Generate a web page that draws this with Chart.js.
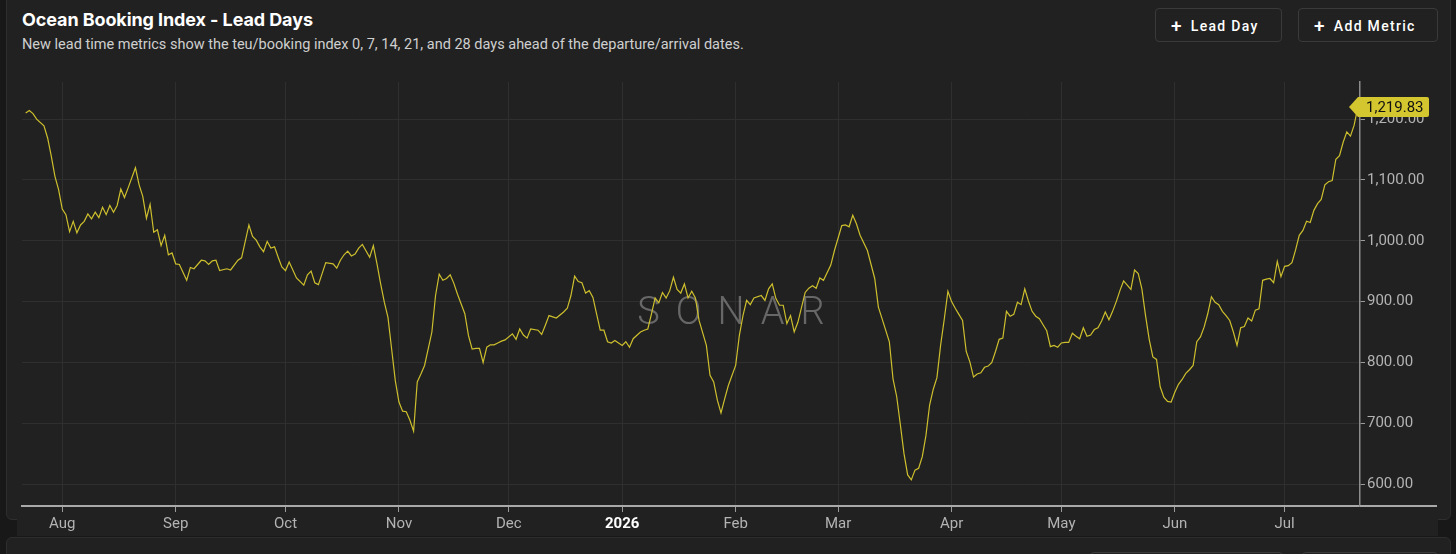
<!DOCTYPE html>
<html>
<head>
<meta charset="utf-8">
<title>Ocean Booking Index - Lead Days</title>
<script src="https://cdn.jsdelivr.net/npm/chart.js@4.4.1/dist/chart.umd.min.js"></script>
<style>
  html, body { margin: 0; padding: 0; background: #181818; width: 1456px; height: 554px; overflow: hidden; }
  body { position: relative; font-family: Roboto, "Noto Sans", sans-serif; }
  .card { position: absolute; background: #212121; border: 1px solid #2e2e2e; border-radius: 6px; box-sizing: border-box; }
  #mainCard { left: 6px; top: -10px; width: 1445px; height: 530px; }
  #axisStrip { position: absolute; left: 17px; top: 505px; width: 1421px; height: 31px; background: #212121; }
  #lowerCard { left: 6px; top: 537px; width: 1445px; height: 40px; }
  h1 { position: absolute; left: 22px; top: 9px; margin: 0; font: 700 18px Inter, Roboto, sans-serif; color: #fff; letter-spacing: -0.1px; }
  .sub { position: absolute; left: 22px; top: 36px; margin: 0; font: 400 14.5px Roboto, sans-serif; color: #cfcfcf; }
  .btn { position: absolute; top: 8px; height: 34px; box-sizing: border-box; border: 1px solid #3a3a3a; border-radius: 4px;
         color: #fff; font: 500 14px Roboto, sans-serif; letter-spacing: 1.3px; line-height: 32px; padding-left: 15px; }
  .btn b { font-size: 19px; font-weight: 500; margin-right: 8px; position: relative; top: 1px; }
  .ghost { position: absolute; top: 552px; height: 20px; border: 1px solid #3a3a3a; border-radius: 4px; box-sizing: border-box; }
  canvas { position: absolute; left: 0; top: 0; }
</style>
</head>
<body>
<div class="card" id="mainCard"></div>
<div id="axisStrip"></div>
<div class="card" id="lowerCard"></div>
<div class="ghost" style="left:1090px;width:193px"></div>
<div class="ghost" style="left:1302px;width:136px"></div>
<h1>Ocean Booking Index - Lead Days</h1>
<p class="sub">New lead time metrics show the teu/booking index 0, 7, 14, 21, and 28 days ahead of the departure/arrival dates.</p>
<div class="btn" style="left:1155px;width:127px"><b>+</b>Lead Day</div>
<div class="btn" style="left:1298px;width:140px"><b>+</b>Add Metric</div>
<canvas id="leadChart" width="1456" height="554"></canvas>

<script>
// Días contados desde el 1 de agosto de 2025 (día 0), valor del índice
const dayOffsets = [
  -10, -9, -8, -7, -5, -4, -3, -2, -1,
  0, 1, 2, 3, 4, 5, 6, 7, 8, 9, 10, 11, 12, 13, 14, 15, 16, 17, 18,
  20, 21, 22, 23, 24, 25, 26, 27, 28, 29, 30, 31, 32,
  34, 35, 36, 38, 39, 40, 41, 42, 43, 45, 46, 48, 49, 51, 52, 53, 54, 55,
  56, 57, 58, 59, 60, 61, 62, 64, 66, 67, 68, 69, 70, 72,
  74, 75, 76, 77, 78, 79, 80, 81, 82,
  84, 85, 86, 87, 88, 89, 90, 91, 92, 93, 94, 95, 96, 97, 98, 99,
  101, 102, 103, 104, 105, 106, 107, 108, 109, 110, 111, 112, 113, 114, 115, 116, 117, 118, 119, 120, 121,
  123, 124, 125, 126, 127, 128, 130, 131, 132, 133, 135,
  137, 138, 139, 140, 141, 142, 143, 144, 145, 146, 147, 148, 149, 150, 151,
  153, 154, 155, 156,
  158, 159, 160, 161, 162, 163, 164, 165, 166, 167, 168, 169, 170, 171, 172, 173, 174,
  176, 177, 178, 179, 180, 181, 182, 184, 185, 186, 187, 188, 189,
  191, 192, 193, 194, 195, 196, 197, 198, 199, 200, 201,
  203, 204, 205, 206, 207, 208, 210, 211, 213, 214, 215, 216, 217, 218, 220, 222, 223, 224, 226, 227,
  228, 229, 230, 231, 232, 233, 234, 235, 236, 237, 238, 239, 240, 241, 242, 243, 244, 245, 246, 247,
  248, 249, 250, 251, 252, 253, 254, 255, 256, 257, 258, 259, 260, 261, 262, 263, 264, 265, 266, 267,
  268, 269, 270, 271, 272, 273, 274, 275, 276, 277, 278, 279, 280, 281, 282, 283, 284, 285, 286, 287,
  288, 289, 290, 291, 292, 293, 294, 295, 296, 297, 298, 299, 300, 301, 302, 303, 304, 305, 306, 307,
  308, 309, 310, 311, 312, 313, 314, 315, 316, 317, 318, 319, 320, 321, 322, 323, 324, 325, 326, 327,
  328, 329, 330, 331, 332, 333, 334, 335, 336, 337, 338, 339, 340, 341, 342, 343, 344, 345, 346, 347,
  348, 349, 350, 351, 352, 353, 354
];

const bookingIndex = [
  1210, 1214, 1209, 1200, 1189, 1169, 1139, 1106, 1084,
  1052, 1043, 1015, 1032, 1013, 1026, 1032, 1044, 1036, 1047, 1038, 1055, 1043, 1058, 1047, 1058, 1085, 1071, 1087,
  1120, 1092, 1073, 1037, 1060, 1014, 1018, 992, 1009, 977, 980, 962, 961,
  935, 956, 954, 968, 967, 961, 967, 968, 951, 954, 952, 968, 972, 1026, 1007, 1001, 990, 982,
  999, 988, 990, 973, 957, 951, 965, 939, 927, 944, 950, 931, 928, 964,
  962, 955, 968, 977, 983, 975, 978, 988, 994,
  973, 992, 962, 929, 899, 874, 822, 770, 735, 720, 719, 705, 687, 768, 781, 795,
  850, 910, 945, 935, 938, 944, 930, 912, 896, 880, 844, 822, 823, 823, 800, 825, 829, 829, 832, 835, 837,
  847, 838, 855, 845, 840, 855, 853, 846, 861, 877, 873,
  883, 889, 910, 942, 933, 931, 914, 918, 907, 880, 853, 853, 834, 832, 836,
  828, 834, 825, 839,
  850, 853, 855, 880, 906, 898, 915, 906, 918, 940, 920, 914, 929, 906, 917, 906, 869,
  828, 779, 768, 738, 717, 740, 762, 795, 844, 877, 902, 895, 906,
  910, 902, 921, 929, 905, 894, 894, 864, 877, 850, 866,
  915, 922, 926, 922, 939, 935, 960, 984, 1025, 1026, 1023, 1042, 1028, 1009, 984, 938, 891, 872, 834, 773,
  744, 698, 650, 615, 607, 623, 626, 645, 680, 730, 756, 775, 828, 871, 917, 900, 889, 879, 869, 818,
  801, 776, 781, 783, 792, 794, 800, 818, 838, 840, 884, 876, 879, 899, 895, 921, 901, 884, 876, 872,
  862, 852, 826, 828, 825, 832, 833, 833, 848, 843, 839, 857, 843, 845, 854, 857, 868, 883, 870, 884,
  900, 918, 934, 927, 920, 952, 946, 921, 877, 838, 809, 805, 760, 743, 736, 735, 751, 764, 772, 782,
  788, 795, 834, 842, 858, 880, 908, 899, 895, 884, 877, 869, 850, 828, 857, 859, 873, 868, 886, 888,
  935, 937, 938, 931, 966, 941, 958, 959, 964, 985, 1009, 1017, 1032, 1030, 1050, 1061, 1068, 1092, 1097, 1099,
  1134, 1140, 1162, 1179, 1172, 1190, 1219.83
];

// Marcas del eje X: primer día de cada mes
const monthTickDays = [0, 31, 61, 92, 122, 153, 184, 212, 243, 273, 304, 334];
const monthTickLabels = ["Aug", "Sep", "Oct", "Nov", "Dec", "2026", "Feb", "Mar", "Apr", "May", "Jun", "Jul"];
const yTickValues = [600, 700, 800, 900, 1000, 1100, 1200];

if (dayOffsets.length !== bookingIndex.length) {
  console.error("Longitudes distintas:", dayOffsets.length, bookingIndex.length);
}

const LINE_COLOR = "#cdbf2d";
const fmt = v => v.toLocaleString("en-US", { minimumFractionDigits: 2, maximumFractionDigits: 2 });

// Marca de agua SONAR detrás de la línea
const watermark = {
  id: "watermark",
  beforeDatasetsDraw(chart) {
    const { ctx } = chart;
    ctx.save();
    ctx.font = "300 38px Roboto, sans-serif";
    ctx.letterSpacing = "16px";
    ctx.fillStyle = "rgba(150,150,150,0.6)";
    ctx.textBaseline = "middle";
    const text = "SONAR";
    const w = ctx.measureText(text).width - 16;
    ctx.fillText(text, 731 - w / 2, 314);
    ctx.restore();
  }
};

// Prolonga la línea del eje X y dibuja la etiqueta del último valor
const lastValueTag = {
  id: "lastValueTag",
  afterDraw(chart) {
    const { ctx, chartArea, scales } = chart;
    ctx.save();
    ctx.strokeStyle = "#a9a9a9";
    ctx.lineWidth = 2;
    ctx.beginPath();
    ctx.moveTo(chartArea.right, chartArea.bottom);
    ctx.lineTo(1437, chartArea.bottom);
    ctx.stroke();

    const last = bookingIndex[bookingIndex.length - 1];
    const y = scales.y.getPixelForValue(last);
    const x = chartArea.right;
    ctx.fillStyle = "#d4c62f";
    ctx.beginPath();
    ctx.moveTo(x - 11, y);
    ctx.lineTo(x - 2, y - 10);
    ctx.lineTo(x + 67, y - 10);
    ctx.quadraticCurveTo(x + 69, y - 10, x + 69, y - 8);
    ctx.lineTo(x + 69, y + 8);
    ctx.quadraticCurveTo(x + 69, y + 10, x + 67, y + 10);
    ctx.lineTo(x - 2, y + 10);
    ctx.closePath();
    ctx.fill();
    ctx.fillStyle = "#111";
    ctx.font = "15px Roboto, sans-serif";
    ctx.textBaseline = "middle";
    ctx.fillText(fmt(last), x + 6, y + 1);
    ctx.restore();
  }
};

document.addEventListener("DOMContentLoaded", () => {
  const ctx = document.getElementById("leadChart").getContext("2d");
  const points = dayOffsets.map((d, i) => ({ x: d, y: bookingIndex[i] }));

  new Chart(ctx, {
    type: "line",
    data: {
      datasets: [{
        label: "Ocean Booking Index",
        data: points,
        borderColor: LINE_COLOR,
        borderWidth: 1.2,
        pointRadius: 0,
        tension: 0,
        fill: false
      }]
    },
    options: {
      responsive: false,
      animation: false,
      layout: { padding: { top: 82, left: 22, right: 0, bottom: 0 } },
      plugins: {
        legend: { display: false },
        tooltip: { enabled: false }
      },
      scales: {
        x: {
          type: "linear",
          min: -11,
          max: 354.6,
          afterBuildTicks: s => { s.ticks = monthTickDays.map(v => ({ value: v })); },
          afterFit: s => { s.height = 48; },
          ticks: {
            autoSkip: false,
            maxRotation: 0,
            padding: 3,
            callback: (v) => monthTickLabels[monthTickDays.indexOf(v)],
            color: c => (c.tick && c.tick.value === 153 ? "#ffffff" : "#b3b3b3"),
            font: c => ({ family: "Roboto", size: 15, weight: c.tick && c.tick.value === 153 ? "bold" : "normal" })
          },
          grid: { color: "#2f2f2f", tickColor: "#9a9a9a", tickLength: 6, lineWidth: 1 },
          border: { display: true, color: "#a9a9a9", width: 2 }
        },
        y: {
          position: "right",
          min: 564,
          max: 1261,
          afterBuildTicks: s => { s.ticks = yTickValues.map(v => ({ value: v })); },
          afterFit: s => { s.width = 96; },
          ticks: {
            padding: 2,
            color: "#b3b3b3",
            font: { family: "Roboto", size: 15 },
            callback: v => fmt(v)
          },
          grid: { color: "#2f2f2f", tickColor: "#9a9a9a", tickLength: 5 },
          border: { display: true, color: "#8c8c8c", width: 1.5 }
        }
      }
    },
    plugins: [watermark, lastValueTag]
  });
});
</script>
</body>
</html>
